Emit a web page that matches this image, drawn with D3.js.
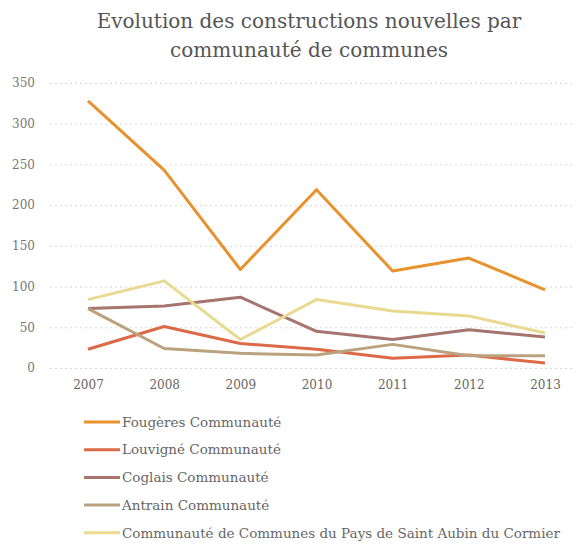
<!DOCTYPE html>
<html>
<head>
<meta charset="utf-8">
<script src="https://cdn.jsdelivr.net/npm/d3@7"></script>
<style>
  body { margin: 0; background: #fff; }
  svg { font-family: "DejaVu Serif", "Liberation Serif", serif; }
</style>
</head>
<body>
<div id="chart"></div>
<script>
const years = ["2007", "2008", "2009", "2010", "2011", "2012", "2013"];
const yTicks = [0, 50, 100, 150, 200, 250, 300, 350];

const fougeres = [328, 243, 121, 219, 119, 135, 96];
const louvigne = [23, 51, 30, 23, 12, 16, 6];
const coglais = [73, 76, 87, 45, 35, 47, 38];
const antrain = [73, 24, 18, 16, 29, 15, 15];
const saintAubin = [84, 107, 35, 84, 70, 64, 43];

const seriesNames = [
    "Fougères Communauté",
    "Louvigné Communauté",
    "Coglais Communauté",
    "Antrain Communauté",
    "Communauté de Communes du Pays de Saint Aubin du Cormier"
];
const seriesColors = ["#e8922e", "#dc6a47", "#a8746e", "#bba27e", "#e8da90"];

const series = [fougeres, louvigne, coglais, antrain, saintAubin].map((values, i) => ({
    name: seriesNames[i],
    color: seriesColors[i],
    values: values
}));

const width = 579;
const height = 549;

const svg = d3.select("#chart")
    .append("svg")
    .attr("width", width)
    .attr("height", height);

// Title
svg.append("text")
    .attr("x", 309)
    .attr("y", 28)
    .attr("text-anchor", "middle")
    .attr("fill", "#555")
    .style("font-size", "20px")
    .text("Evolution des constructions nouvelles par");
svg.append("text")
    .attr("x", 309)
    .attr("y", 57)
    .attr("text-anchor", "middle")
    .attr("fill", "#555")
    .style("font-size", "20px")
    .text("communauté de communes");

// Scales
const x = d3.scalePoint()
    .domain(years)
    .range([88, 545]);

const y = d3.scaleLinear()
    .domain([0, 350])
    .range([368, 83]);

// Gridlines
svg.append("g")
    .attr("class", "grid")
    .attr("transform", "translate(50,0)")
    .call(d3.axisLeft(y).tickValues(yTicks).tickSize(-(width - 50 - 4)).tickFormat(""))
    .call(g => g.select(".domain").remove())
    .call(g => g.selectAll("line")
        .attr("stroke", "#d9d9d9")
        .attr("stroke-dasharray", "2,3"));

// Y axis labels
svg.append("g")
    .attr("transform", "translate(38,0)")
    .call(d3.axisLeft(y).tickValues(yTicks).tickSize(0))
    .call(g => g.select(".domain").remove())
    .call(g => g.selectAll("text")
        .attr("fill", "#777")
        .style("font-size", "12px")
        .style("font-family", "'DejaVu Serif', serif"));

// X axis labels
svg.append("g")
    .attr("transform", "translate(0,375)")
    .call(d3.axisBottom(x).tickSize(0))
    .call(g => g.select(".domain").remove())
    .call(g => g.selectAll("text")
        .attr("fill", "#666")
        .attr("dy", "0.9em")
        .style("font-size", "12px")
        .style("font-family", "'DejaVu Serif', serif"));

// Lines
const line = d3.line()
    .x((d, i) => x(years[i]))
    .y(d => y(d));

svg.selectAll("path.series")
    .data(series)
    .enter()
    .append("path")
    .attr("class", "series")
    .attr("d", d => line(d.values))
    .attr("fill", "none")
    .attr("stroke", d => d.color)
    .attr("stroke-width", 3)
    .attr("stroke-linejoin", "round");

// Legend
const legend = svg.selectAll("g.legend")
    .data(series)
    .enter()
    .append("g")
    .attr("class", "legend")
    .attr("transform", (d, i) => `translate(84,${422 + i * 27.7})`);

legend.append("line")
    .attr("x1", 0)
    .attr("x2", 36)
    .attr("y1", 0)
    .attr("y2", 0)
    .attr("stroke", d => d.color)
    .attr("stroke-width", 3);

legend.append("text")
    .attr("x", 38)
    .attr("y", 0)
    .attr("dy", "0.35em")
    .attr("fill", "#666")
    .style("font-size", "13.5px")
    .text(d => d.name);
</script>
</body>
</html>
